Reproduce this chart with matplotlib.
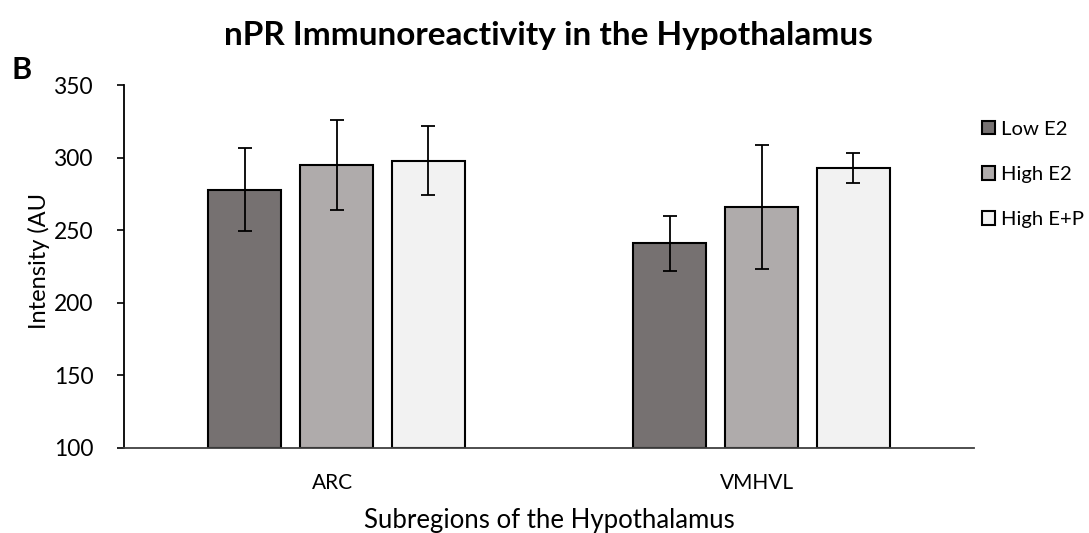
import matplotlib.pyplot as plt
import numpy as np

plt.rcParams['font.family'] = ['Lato', 'DejaVu Sans']

# dados
regioes = ["ARC", "VMHVL"]
grupos = ["Low E2", "High E2", "High E+P"]
medias = {
    "Low E2": [278, 241],
    "High E2": [295, 266],
    "High E+P": [298, 293],
}
erros = {
    "Low E2": [28.5, 18.8],
    "High E2": [31, 43],
    "High E+P": [24, 10.3],
}
cores = ["#767171", "#AFABAB", "#F2F2F2"]
yticks = [100, 150, 200, 250, 300, 350]

fig = plt.figure(figsize=(10.89, 5.33), dpi=100)
ax = fig.add_axes([0.1139, 0.1595, 0.7805, 0.681])

x = np.arange(len(regioes))
largura = 0.172
passo = 0.216
for i, g in enumerate(grupos):
    ax.bar(
        x + (i - 1) * passo,
        np.array(medias[g]) - 100,
        bottom=100,
        width=largura,
        color=cores[i],
        edgecolor="black",
        linewidth=1.5,
        label=g,
        zorder=2,
    )
    ax.errorbar(
        x + (i - 1) * passo,
        medias[g],
        yerr=erros[g],
        fmt="none",
        ecolor="black",
        elinewidth=1.3,
        capsize=5,
        capthick=1.3,
        zorder=3,
    )

ax.set_xlim(-0.5, 1.5)
ax.set_ylim(100, 350)
ax.set_yticks(yticks)
ax.set_xticks(x - 0.01)
ax.set_xticklabels(regioes)
ax.tick_params(axis="x", length=0, pad=18, labelsize=15)
ax.tick_params(axis="y", length=5, width=1.2, pad=17, labelsize=16.4)
for lado in ["top", "right"]:
    ax.spines[lado].set_visible(False)
ax.spines["left"].set_linewidth(1.3)
ax.spines["bottom"].set_linewidth(1.3)
ax.spines["bottom"].set_color("#404040")

ax.set_xlabel("Subregions of the Hypothalamus", fontsize=18.5, labelpad=11)
fig.text(0.036, 0.51, "Intensity (AU", rotation=90, fontsize=17,
         ha="center", va="center")

fig.text(0.504, 0.933, "nPR Immunoreactivity in the Hypothalamus",
         fontsize=24, fontweight="bold", ha="center", va="center")
fig.text(0.011, 0.868, "B", fontsize=22, fontweight="bold", va="center")

fig.legend(
    loc="upper left",
    bbox_to_anchor=(0.8945, 0.789),
    frameon=False,
    fontsize=14.6,
    handlelength=0.65,
    handleheight=0.65,
    handletextpad=0.3,
    labelspacing=1.4,
    borderaxespad=0,
)

fig.savefig("out.png", dpi=100)
